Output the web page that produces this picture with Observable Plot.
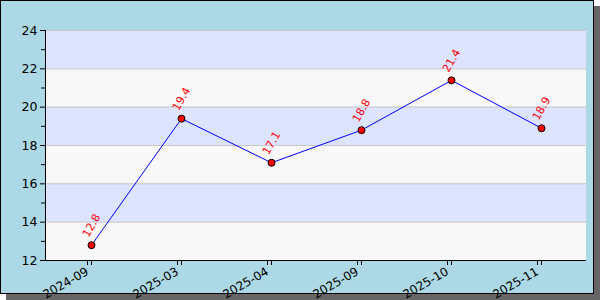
<!DOCTYPE html>
<html>
<head>
<meta charset="utf-8">
<script src="https://cdn.jsdelivr.net/npm/d3@7"></script>
<script src="https://cdn.jsdelivr.net/npm/@observablehq/plot@0.6"></script>
<style>
  html, body { margin: 0; padding: 0; background: #fff; }
  #wrap { position: relative; width: 600px; height: 300px; }
  #frame { position: absolute; left: 0; top: 0; width: 592px; height: 292px;
           background: #add8e6; border: 1px solid #000; box-shadow: 6px 6px 0 #666; }
  #chart { position: absolute; left: 0; top: 0; }
</style>
</head>
<body>
<div id="wrap"><div id="frame"></div><div id="chart"></div></div>
<script>
const categories = ["2024-09", "2025-03", "2025-04", "2025-09", "2025-10", "2025-11"];
const values = [12.8, 19.4, 17.1, 18.8, 21.4, 18.9];
const yMajorTicks = [12, 14, 16, 18, 20, 22, 24];
const yMinorTicks = [13, 15, 17, 19, 21, 23];

const data = categories.map((c, i) => ({cat: c, v: values[i]}));
const bands = yMajorTicks.slice(0, -1).map((t, i) => ({y1: t, y2: yMajorTicks[i + 1], i}));

const chart = Plot.plot({
  width: 600,
  height: 300,
  marginLeft: 45,
  marginRight: 14,
  marginTop: 30,
  marginBottom: 40,
  style: {background: "transparent", fontFamily: "DejaVu Sans", fontSize: "12px", color: "#000"},
  x: {type: "point", domain: categories, padding: 0.5, label: null},
  y: {domain: [12, 24], label: null},
  marks: [
    Plot.rect(bands, {y1: "y1", y2: "y2", fill: d => d.i % 2 === 0 ? "#f8f8f8" : "#dde4ff"}),
    Plot.ruleY(yMajorTicks, {stroke: "#c8c8c8", strokeWidth: 1}),
    Plot.frame({anchor: "left", stroke: "#000"}),
    Plot.ruleY([12], {stroke: "#000"}),
    Plot.axisY({ticks: yMajorTicks, tickSize: 5, tickPadding: 3, fontSize: 12.5, label: null}),
    Plot.axisY({ticks: yMinorTicks, tickSize: 4, tickFormat: () => "", label: null}),
    Plot.axisX({tickSize: 5, tickRotate: -30, tickPadding: 5, fontSize: 12, label: null, dx: -4}),
    Plot.axisX({tickSize: 5, tickFormat: () => "", label: null}),
    Plot.line(data, {x: "cat", y: "v", stroke: "#0000ff", strokeWidth: 1}),
    Plot.dot(data, {x: "cat", y: "v", r: 3.5, fill: "#ff0000", stroke: "#000", strokeWidth: 1}),
    Plot.text(data, {x: "cat", y: "v", text: d => d.v.toFixed(1), rotate: -60, textAnchor: "start",
      dy: -9, dx: -6, fill: "#ff0000", fontSize: 11})
  ]
});
document.getElementById("chart").appendChild(chart);
</script>
</body>
</html>
